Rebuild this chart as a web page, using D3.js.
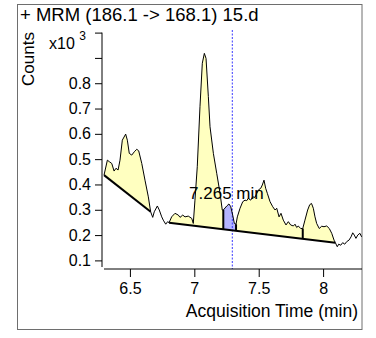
<!DOCTYPE html>
<html><head><meta charset="utf-8">
<script src="https://cdn.jsdelivr.net/npm/d3@7"></script>
<style>
body{margin:0;background:#fff}
svg{display:block}
text{font-family:"Liberation Sans",Arial,Helvetica,sans-serif;fill:#000}
</style>
</head><body>
<svg id="chart" width="376" height="338"></svg>
<script>
// ---- data (counts in x10^3) ----
const times = [6.299,6.325,6.340,6.359,6.377,6.392,6.408,6.423,6.441,6.467,6.480,6.495,6.514,6.534,6.553,6.568,6.592,6.617,6.643,6.661,
  6.677,6.689,6.713,6.728,6.747,6.759,6.778,6.793,6.804,6.824,6.850,6.876,6.889,6.910,6.928,6.953,6.980,6.992,
  7.005,7.023,7.044,7.062,7.078,7.091,7.109,7.122,7.148,7.174,7.200,7.217,7.225,7.252,7.269,7.283,7.298,7.311,7.324,
  7.334,7.355,7.376,7.394,7.407,7.419,7.438,7.453,7.471,7.497,7.516,7.528,7.541,7.554,7.567,7.588,7.609,7.627,7.640,
  7.658,7.673,7.691,7.712,7.730,7.748,7.769,7.782,7.795,7.807,7.826,7.842,7.859,7.880,7.896,7.910,7.924,7.937,7.950,
  7.970,7.989,8.007,8.028,8.048,8.067,8.085,8.095,8.110,8.121,8.137,8.152,8.168,8.183,8.201,8.217,8.230,8.242,8.255,
  8.269,8.286,8.299];
const counts = [0.437,0.496,0.490,0.483,0.453,0.464,0.457,0.496,0.575,0.599,0.575,0.523,0.516,0.529,0.539,0.533,0.483,0.417,0.351,0.292,
  0.270,0.292,0.315,0.299,0.272,0.259,0.243,0.253,0.249,0.272,0.286,0.279,0.270,0.279,0.272,0.275,0.266,0.246,
  0.338,0.470,0.707,0.879,0.918,0.898,0.747,0.628,0.523,0.444,0.365,0.299,0.299,0.315,0.323,0.312,0.279,0.246,0.243,
  0.272,0.306,0.332,0.338,0.336,0.345,0.338,0.351,0.349,0.378,0.385,0.398,0.417,0.385,0.365,0.332,0.312,0.299,0.306,
  0.272,0.286,0.259,0.240,0.253,0.240,0.236,0.243,0.230,0.236,0.226,0.226,0.259,0.299,0.320,0.325,0.306,0.272,0.246,
  0.226,0.235,0.233,0.236,0.226,0.207,0.180,0.170,0.154,0.164,0.160,0.170,0.164,0.174,0.180,0.193,0.209,0.200,0.187,
  0.200,0.207,0.193];

// integration baselines (start/end time and count)
const baseline1Times = [6.299, 6.661];
const baseline1Counts = [0.437, 0.292];
const baseline2Times = [6.804, 8.095];
const baseline2Counts = [0.249, 0.170];

// integrated regions: [start, end, baseline index, colour key]
const regionStarts = [6.299, 6.804, 7.225, 7.324];
const regionEnds   = [6.661, 7.225, 7.324, 8.095];
const regionBase   = [0, 1, 1, 1];
const regionKind   = ["other", "other", "selected", "other"];
const dividerTimes = [7.225, 7.324, 7.842];

const expectedRT = 7.295;
const peakLabelTime = 7.265;
const peakLabelCount = 0.323;
const peakLabel = "7.265 min";

const xTicks = [6.5, 7, 7.5, 8];
const xTickLabels = ["6.5", "7", "7.5", "8"];
const yTicks = [0.1, 0.2, 0.3, 0.4, 0.5, 0.6, 0.7, 0.8, 0.9, 1.0];
const yTickLabels = ["0.1", "0.2", "0.3", "0.4", "0.5", "0.6", "0.7", "0.8", "", ""];
const xDomain = [6.291, 8.302];
const yDomain = [0.066, 1.0];

// ---- drawing ----
const svg = d3.select("#chart");
const x = d3.scaleLinear().domain(xDomain).range([103, 362]);
const y = d3.scaleLinear().domain(yDomain).range([269, 32.6]);

const pts = times.map((t, i) => ({t, v: counts[i]}));
const baselines = [[baseline1Times, baseline1Counts], [baseline2Times, baseline2Counts]];
function baseAt(bi, t) {
  const [bt, bc] = baselines[bi];
  return bc[0] + (t - bt[0]) / (bt[1] - bt[0]) * (bc[1] - bc[0]);
}
function curveAt(t) {
  for (let i = 1; i < pts.length; i++) {
    if (pts[i].t >= t) {
      const a = pts[i-1], b = pts[i];
      return a.v + (t - a.t) / (b.t - a.t) * (b.v - a.v);
    }
  }
  return pts[pts.length-1].v;
}

// outer frame
svg.append("rect").attr("x", 17.5).attr("y", 4.5).attr("width", 344.5).attr("height", 325)
  .attr("fill", "none").attr("stroke", "#6e6e6e").attr("stroke-width", 1);

svg.append("clipPath").attr("id", "clip").append("rect")
  .attr("x", x(xDomain[0])).attr("y", 28).attr("width", x(xDomain[1]) - x(xDomain[0])).attr("height", y(yDomain[0]) - 28);

const plot = svg.append("g").attr("clip-path", "url(#clip)");

// filled regions
const fills = {other: "#ffffc0", selected: "#b4b4ff"};
regionStarts.forEach((a, i) => {
  const b = regionEnds[i], bi = regionBase[i];
  const seg = [{t: a, v: curveAt(a)}]
    .concat(pts.filter(p => p.t > a && p.t < b))
    .concat([{t: b, v: curveAt(b)}]);
  const area = d3.area().x(d => x(d.t)).y0(d => y(baseAt(bi, d.t))).y1(d => y(d.v));
  plot.append("path").attr("d", area(seg)).attr("fill", fills[regionKind[i]]).attr("stroke", "none");
});

// dashed expected RT line
plot.append("line").attr("x1", x(expectedRT)).attr("x2", x(expectedRT))
  .attr("y1", 30).attr("y2", y(yDomain[0]))
  .attr("stroke", "#3a3aff").attr("stroke-width", 1).attr("stroke-dasharray", "2,1.5");

// chromatogram
plot.append("path").datum(pts)
  .attr("d", d3.line().x(d => x(d.t)).y(d => y(d.v)))
  .attr("fill", "none").attr("stroke", "#000").attr("stroke-width", 1);

// baselines
baselines.forEach(([bt, bc]) => {
  plot.append("line").attr("x1", x(bt[0])).attr("y1", y(bc[0])).attr("x2", x(bt[1])).attr("y2", y(bc[1]))
    .attr("stroke", "#000").attr("stroke-width", 2);
});
// dividers
dividerTimes.forEach(t => {
  plot.append("line").attr("x1", x(t)).attr("x2", x(t))
    .attr("y1", y(baseAt(1, t))).attr("y2", y(curveAt(t)))
    .attr("stroke", "#000").attr("stroke-width", 2);
});

// peak label
svg.append("text").attr("x", x(peakLabelTime)).attr("y", y(peakLabelCount)).attr("dy", -5).attr("dx", -2)
  .attr("text-anchor", "middle").style("font-size", "17px").text(peakLabel);

// y axis
const yAxis = d3.axisLeft(y).tickValues(yTicks).tickSize(7).tickPadding(4)
  .tickFormat((d, i) => yTickLabels[i]);
const gy = svg.append("g").attr("transform", "translate(102,0)").call(yAxis);
gy.select(".domain").remove();
gy.selectAll("text").style("font-size", "16px").attr("fill", "#000");
gy.selectAll("line").attr("stroke", "#000");
gy.append("line").attr("x1", 0).attr("x2", 0).attr("y1", y(yDomain[1])).attr("y2", y(yDomain[0]) - 2).attr("stroke", "#000");

// x axis
const xAxis = d3.axisBottom(x).tickValues(xTicks).tickSize(8).tickPadding(6)
  .tickFormat((d, i) => xTickLabels[i]);
const gx = svg.append("g").attr("transform", `translate(0,${y(yDomain[0])})`).call(xAxis);
gx.select(".domain").remove();
gx.selectAll("text").style("font-size", "16px").attr("fill", "#000");
gx.selectAll("line").attr("stroke", "#000");
gx.append("line").attr("x1", x(xDomain[0]) + 1).attr("x2", x(xDomain[1])).attr("y1", 0).attr("y2", 0).attr("stroke", "#000");

// titles
svg.append("text").attr("x", 20).attr("y", 21).style("font-size", "18.5px").text("+ MRM (186.1 -> 168.1) 15.d");
svg.append("text").attr("transform", "translate(34,59) rotate(-90)").attr("text-anchor", "middle")
  .style("font-size", "17px").text("Counts");
const mult = svg.append("text").attr("x", 49).attr("y", 49).style("font-size", "16px");
mult.append("tspan").text("x10 ");
mult.append("tspan").attr("dy", -9).style("font-size", "12px").text("3");
svg.append("text").attr("x", 358).attr("y", 317).attr("text-anchor", "end").style("font-size", "17.5px")
  .text("Acquisition Time (min)");
</script>
</body></html>
